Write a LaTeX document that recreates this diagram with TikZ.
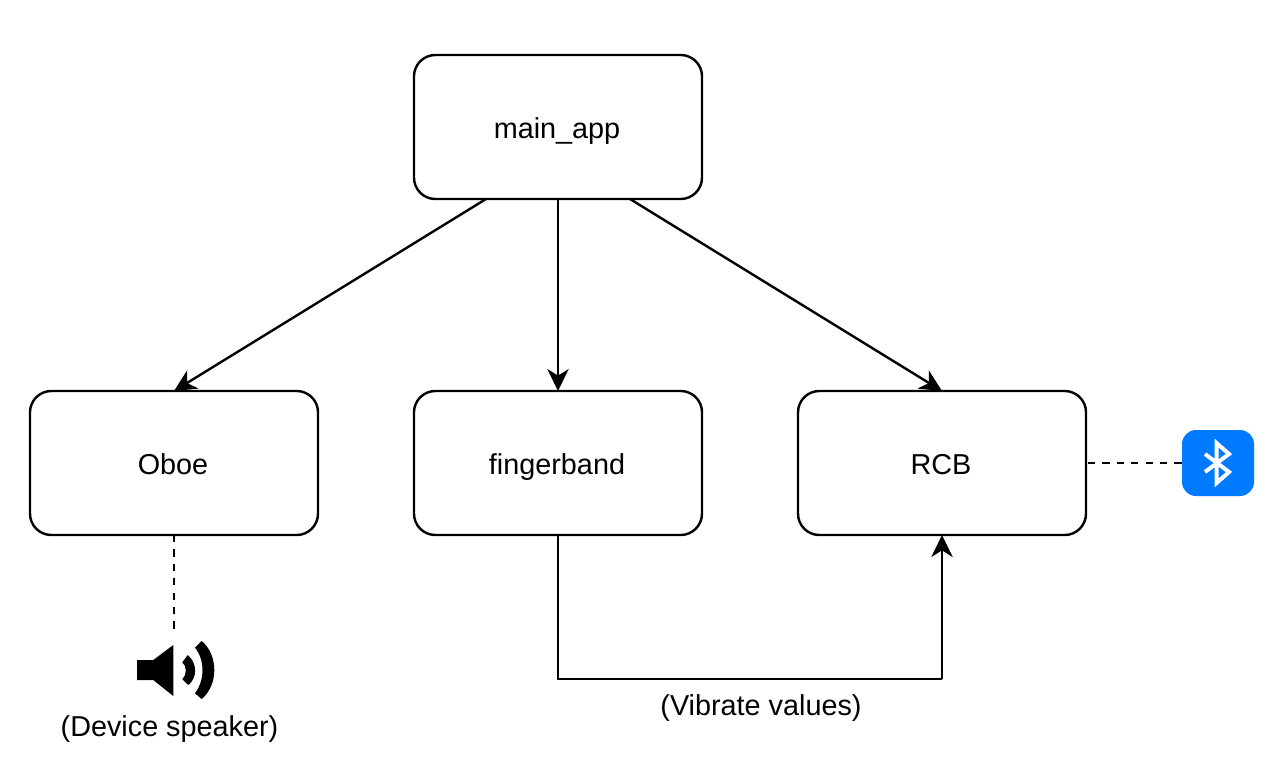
\documentclass[tikz,border=0pt]{standalone}
\usepackage{fontspec}
\setmainfont{Liberation Sans}
\usetikzlibrary{arrows.meta,calc}
\definecolor{btblue}{HTML}{007AFF}
\tikzset{
  x=0.75pt,y=-0.75pt,
  box/.style={draw=black,line width=1.8pt,rounded corners=16pt,minimum width=216pt,minimum height=108pt,inner sep=0pt,outer sep=0pt,font=\fontsize{21.6pt}{25pt}\selectfont,fill=white,text height=16.5pt,text depth=0pt,execute at begin node={\kern-1.5pt}},
  lbl/.style={inner sep=0pt,outer sep=0pt,font=\fontsize{21.6pt}{25pt}\selectfont,text height=16.5pt,text depth=0pt},
  conn/.style={draw=black,line width=1.8pt,-{Stealth[length=16.5pt,width=16pt,inset=5pt]}},
  plainconn/.style={draw=black,line width=1.8pt},
  dashconn/.style={draw=black,line width=1.8pt,dash pattern=on 5.4pt off 5.4pt},
  btbox/.style={fill=btblue,draw=none,rounded corners=10.5pt,minimum width=54pt,minimum height=49.5pt,inner sep=0pt,outer sep=0pt},
}
\begin{document}
\begin{tikzpicture}
\useasboundingbox (0,0) rectangle (1280,764);
\node[box] (main) at (558,127) {main\_app};
\node[box] (oboe) at (174,463) {Oboe};
\node[box] (finger) at (558,463) {fingerband};
\node[box] (rcb) at (942,463) {RCB};
\node[btbox] (bt) at (1218,463) {};
\coordinate (spk) at (174,632);
\node[lbl] (vib) at (761,704) {(Vibrate values)};
\node[lbl] (dev) at (169.5,725) {(Device speaker)};
\coordinate (c1) at ($(finger.south)+(0,144)$);
\coordinate (c2) at ($(rcb.south)+(0,144)$);
\draw[conn] ($(main.south west)!.25!(main.south east)$) -- (oboe.north);
\draw[conn] (main.south) -- (finger.north);
\draw[conn] ($(main.south west)!.75!(main.south east)$) -- (rcb.north);
\draw[plainconn,line join=miter] (finger.south) -- (c1) -- (c2);
\draw[conn] (c2) -- (rcb.south);
\draw[dashconn,dash phase=0pt] (oboe.south) -- (spk);
\draw[dashconn,dash phase=-1.5pt] (rcb.east) -- (bt.west);
% bluetooth rune
\draw[white,line width=3pt,line join=miter,miter limit=4]
  (1205,454) -- (1229,472) -- (1216.5,483) -- (1216.5,443) -- (1229,454) -- (1205,472);
% speaker
\fill[black] (137,660) -- (153.3,660) -- (173.3,645) -- (173.3,696) -- (153.3,680) -- (137,680) -- cycle;
\fill[black] (187.7,655) -- (182.3,662.3) .. controls (187,666) and (187,675) .. (182.3,679.3) -- (188.3,685) .. controls (197.5,678) and (197.5,663) .. (187.7,655) -- cycle;
\fill[black] (201.7,641) -- (195,647.7) .. controls (205,660) and (205,680) .. (195,693.3) -- (201.7,699) .. controls (218.5,685) and (218.5,655) .. (201.7,641) -- cycle;
\end{tikzpicture}
\end{document}
